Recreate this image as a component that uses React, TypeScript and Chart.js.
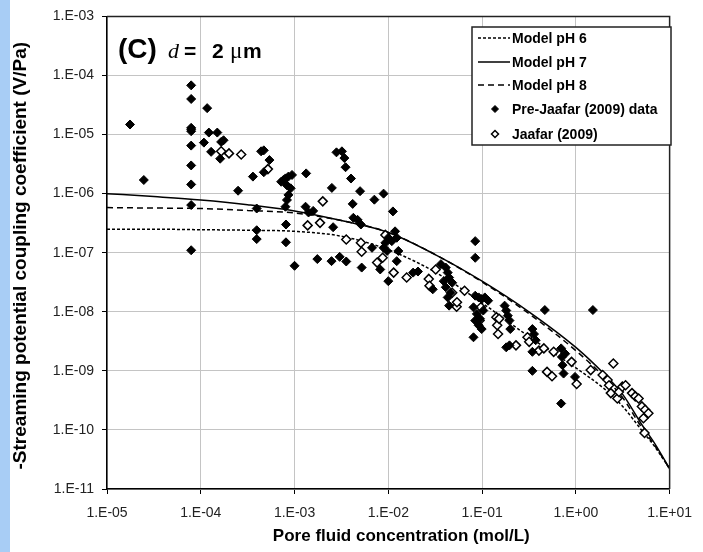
import React, { useEffect, useRef } from 'react';
import { Chart, registerables } from 'chart.js';

Chart.register(...registerables);

// ---- Data -------------------------------------------------------------
const xTickValues = [1e-5, 1e-4, 1e-3, 1e-2, 1e-1, 1, 10];
const xTickLabels = ['1.E-05', '1.E-04', '1.E-03', '1.E-02', '1.E-01', '1.E+00', '1.E+01'];
const yTickValues = [1e-11, 1e-10, 1e-9, 1e-8, 1e-7, 1e-6, 1e-5, 1e-4, 1e-3];
const yTickLabels = ['1.E-11', '1.E-10', '1.E-09', '1.E-08', '1.E-07', '1.E-06', '1.E-05', '1.E-04', '1.E-03'];

const xTitle = 'Pore fluid concentration (mol/L)';
const yTitle = '-Streaming potential coupling coefficient (V/Pa)';

const modelConc = [1e-5, 3.16e-5, 1e-4, 3.16e-4, 1e-3, 3.16e-3, 1e-2, 3.16e-2, 1e-1, 3.16e-1, 1, 2, 3.16, 5, 7.08, 10];
const modelPH6 = [2.5e-7, 2.5e-7, 2.45e-7, 2.4e-7, 2.3e-7, 1.9e-7, 1.12e-7, 4.7e-8, 1.41e-8, 3.8e-9, 1.12e-9, 5.0e-10, 2.5e-10, 1.0e-10, 5.0e-11, 2.2e-11];
const modelPH7 = [1.0e-6, 8.9e-7, 7.8e-7, 6.5e-7, 5.1e-7, 3.5e-7, 2.2e-7, 9.3e-8, 3.3e-8, 1.0e-8, 2.5e-9, 8.9e-10, 4.0e-10, 1.26e-10, 5.6e-11, 2.2e-11];
const modelPH8 = [5.8e-7, 5.7e-7, 5.6e-7, 5.2e-7, 4.7e-7, 3.5e-7, 2.2e-7, 9.3e-8, 3.2e-8, 9.3e-9, 2.2e-9, 7.9e-10, 3.5e-10, 1.12e-10, 5.2e-11, 2.2e-11];

const preJaafarConc = [
  1.76e-5, 2.47e-5,
  7.9e-5, 7.9e-5, 7.9e-5, 7.9e-5, 7.9e-5, 7.9e-5, 7.9e-5, 7.9e-5, 7.9e-5, 7.9e-5,
  1.17e-4, 1.08e-4, 1.22e-4, 1.5e-4, 1.29e-4, 1.65e-4, 1.75e-4, 1.61e-4,
  2.5e-4, 3.6e-4, 4.4e-4, 4.7e-4, 5.4e-4, 4.7e-4, 3.95e-4, 3.95e-4, 3.95e-4,
  7.2e-4, 7.6e-4, 8.0e-4, 8.6e-4, 9.4e-4, 8.3e-4, 9.1e-4, 8.6e-4, 8.3e-4, 8.0e-4, 8.1e-4, 8.1e-4, 1.0e-3,
  1.33e-3, 1.31e-3, 1.41e-3, 1.58e-3, 1.75e-3,
  2.48e-3, 2.58e-3, 3.03e-3, 3.56e-3, 4.17e-3, 4.24e-3, 4.7e-3, 5.1e-3, 5.2e-3, 8.2e-3, 1.0e-2,
  8.9e-3, 9.3e-3, 1.0e-2, 1.09e-2, 1.18e-2, 1.23e-2, 1.28e-2, 1.23e-2, 9.7e-3, 6.7e-3,
  1.84e-2, 2.07e-2, 2.98e-2, 3.64e-2, 4.1e-2, 4.3e-2, 4.45e-2, 4.8e-2, 3.9e-2, 4.1e-2, 4.6e-2, 4.3e-2, 4.45e-2,
  8.45e-2, 8.45e-2, 8.1e-2, 8.45e-2, 9.2e-2, 9.9e-2, 1.07e-1, 1.16e-1, 8.1e-2, 8.8e-2, 9.5e-2, 8.45e-2, 9.2e-2, 9.9e-2, 1.03e-1,
  1.74e-1, 1.81e-1, 1.88e-1, 1.96e-1, 2.0e-1, 1.81e-1, 1.96e-1,
  4.67e-1, 1.52, 3.44e-1, 3.58e-1, 3.73e-1, 3.44e-1, 3.44e-1,
  6.97e-1, 7.1e-1, 7.2e-1, 7.4e-1, 7.7e-1, 9.8e-1, 6.97e-1,
  2.8e-3, 3.2e-3, 3.4e-3, 3.5e-3, 4.0e-3, 5.0e-3, 2.5e-3, 7.1e-3, 8.9e-3, 1.12e-2,
];
const preJaafarCoeff = [
  1.48e-5, 1.7e-6,
  6.8e-5, 4.0e-5, 1.3e-5, 1.23e-5, 1.14e-5, 6.5e-6, 3.0e-6, 1.43e-6, 6.4e-7, 1.1e-7,
  2.8e-5, 7.3e-6, 1.08e-5, 1.08e-5, 5.1e-6, 7.5e-6, 8.0e-6, 3.9e-6,
  1.12e-6, 1.94e-6, 5.2e-6, 5.4e-6, 3.7e-6, 2.3e-6, 5.6e-7, 2.4e-7, 1.7e-7,
  1.59e-6, 1.7e-6, 1.81e-6, 1.94e-6, 2.07e-6, 1.38e-6, 1.23e-6, 9.5e-7, 7.8e-7, 6.0e-7, 3.0e-7, 1.5e-7, 6.0e-8,
  2.2e-6, 6.0e-7, 4.8e-7, 5.1e-7, 7.8e-8,
  7.2e-8, 2.7e-7, 8.5e-8, 7.1e-8, 6.7e-7, 3.9e-7, 3.6e-7, 3.0e-7, 5.6e-8, 5.2e-8, 3.3e-8,
  1.21e-7, 1.47e-7, 1.79e-7, 1.57e-7, 2.3e-7, 1.79e-7, 1.07e-7, 7.2e-8, 1.07e-7, 1.21e-7,
  4.6e-8, 4.8e-8, 2.4e-8, 6.4e-8, 5.6e-8, 4.6e-8, 3.8e-8, 3.1e-8, 3.3e-8, 2.6e-8, 2.1e-8, 1.75e-8, 1.27e-8,
  1.57e-7, 8.2e-8, 3.7e-9, 1.87e-8, 1.75e-8, 1.64e-8, 1.75e-8, 1.54e-8, 1.19e-8, 9.2e-9, 7.6e-9, 7.1e-9, 5.9e-9, 5.1e-9, 1.05e-8,
  1.27e-8, 1.05e-8, 8.6e-9, 7.1e-9, 5.1e-9, 2.5e-9, 2.7e-9,
  1.07e-8, 1.07e-8, 5.1e-9, 4.2e-9, 3.3e-9, 2.1e-9, 1.0e-9,
  2.4e-9, 1.72e-9, 1.25e-9, 9.0e-10, 1.95e-9, 7.9e-10, 2.8e-10,
  5.0e-6, 5.2e-6, 4.0e-6, 2.8e-6, 1.8e-6, 1.1e-6, 1.25e-6, 7.9e-7, 1.0e-6, 5.0e-7,
];

const jaafarConc = [
  1.65e-4, 2.0e-4, 2.7e-4, 5.2e-4, 1.38e-3, 2.0e-3, 1.87e-3, 3.56e-3, 5.1e-3, 5.2e-3,
  7.6e-3, 8.7e-3, 9.3e-3, 1.14e-2, 1.57e-2, 2.7e-2, 2.75e-2, 3.2e-2, 4.8e-2, 5.35e-2,
  5.4e-2, 6.5e-2, 9.7e-2, 9.4e-2, 1.42e-1, 1.45e-1, 1.48e-1, 1.52e-1, 2.3e-1, 3.05e-1,
  3.18e-1, 4.04e-1, 4.56e-1, 4.93e-1, 5.57e-1, 5.8e-1, 9.0e-1, 1.02, 1.44, 1.93,
  2.18, 2.26, 2.51, 2.36, 2.77, 2.88, 3.13, 3.39, 3.97, 4.3,
  4.67, 5.06, 5.48, 5.94, 5.26, 5.4,
];
const jaafarCoeff = [
  5.2e-6, 4.8e-6, 4.6e-6, 2.6e-6, 2.9e-7, 7.4e-7, 3.2e-7, 1.67e-7, 1.47e-7, 1.04e-7,
  6.8e-8, 8.2e-8, 2.0e-7, 4.6e-8, 3.8e-8, 3.6e-8, 2.75e-8, 5.2e-8, 2.1e-8, 1.22e-8,
  1.45e-8, 2.27e-8, 1.19e-8, 7.1e-9, 8.1e-9, 5.9e-9, 4.2e-9, 7.6e-9, 2.7e-9, 3.7e-9,
  3.1e-9, 2.2e-9, 2.4e-9, 9.6e-10, 8.1e-10, 2.1e-9, 1.42e-9, 6.0e-10, 1.03e-9, 8.5e-10,
  7.0e-10, 5.7e-10, 1.33e-9, 4.2e-10, 3.4e-10, 4.4e-10, 5.4e-10, 5.7e-10, 4.2e-10, 3.7e-10,
  3.4e-10, 2.5e-10, 2.2e-10, 1.92e-10, 1.58e-10, 8.9e-11,
];

const legendOrder = ['Model pH 6', 'Model pH 7', 'Model pH 8', 'Pre-Jaafar (2009) data', 'Jaafar (2009)'];

const FONT = '"Liberation Sans", Arial, Helvetica, sans-serif';
const SERIF = '"Liberation Serif", "Times New Roman", serif';

function drawDiamond(ctx: CanvasRenderingContext2D, x: number, y: number, r: number, filled: boolean) {
  ctx.beginPath();
  ctx.moveTo(x - r, y);
  ctx.lineTo(x, y - r);
  ctx.lineTo(x + r, y);
  ctx.lineTo(x, y + r);
  ctx.closePath();
  ctx.fillStyle = filled ? '#000' : '#fff';
  ctx.fill();
  ctx.lineWidth = filled ? 1 : 1.5;
  ctx.strokeStyle = '#000';
  ctx.stroke();
}

const decorPlugin = {
  id: 'decor',
  beforeDraw(chart: any) {
    const ctx = chart.ctx as CanvasRenderingContext2D;
    ctx.save();
    ctx.fillStyle = '#ffffff';
    ctx.fillRect(0, 0, chart.width, chart.height);
    ctx.fillStyle = '#a8cdf5';
    ctx.fillRect(0, 0, 10, chart.height);
    ctx.restore();
  },
  afterDraw(chart: any) {
    const ctx = chart.ctx as CanvasRenderingContext2D;
    const a = chart.chartArea;
    ctx.save();
    // frame top / right
    ctx.strokeStyle = '#222';
    ctx.lineWidth = 1.5;
    ctx.beginPath();
    ctx.moveTo(a.left, a.top);
    ctx.lineTo(a.right, a.top);
    ctx.lineTo(a.right, a.bottom);
    ctx.stroke();

    // axis titles
    ctx.fillStyle = '#000';
    ctx.textAlign = 'center';
    ctx.textBaseline = 'middle';
    ctx.font = `bold 17px ${FONT}`;
    ctx.fillText(xTitle, (a.left + a.right) / 2 + 13, 536);
    ctx.save();
    ctx.translate(21, (a.top + a.bottom) / 2 + 3);
    ctx.rotate(-Math.PI / 2);
    ctx.font = `bold 19px ${FONT}`;
    ctx.fillText(yTitle, 0, 0);
    ctx.restore();

    // panel label
    ctx.fillStyle = '#000';
    ctx.textBaseline = 'alphabetic';
    ctx.textAlign = 'left';
    const bx = a.left + 11;
    const by = a.top + 42;
    ctx.font = `bold 28px ${FONT}`;
    ctx.fillText('(C)', bx, by);
    ctx.font = `italic 22px ${SERIF}`;
    ctx.fillText('d', bx + 50, by);
    ctx.font = `bold 21px ${FONT}`;
    ctx.fillText('=', bx + 66, by);
    ctx.fillText('2', bx + 94, by);
    ctx.font = `23px ${SERIF}`;
    ctx.fillText('\u03bc', bx + 112, by);
    ctx.font = `bold 21px ${FONT}`;
    ctx.fillText('m', bx + 125, by);

    // legend box
    const lx = 472, ly = 27, lw = 199, lh = 118;
    ctx.fillStyle = '#fff';
    ctx.fillRect(lx, ly, lw, lh);
    ctx.strokeStyle = '#222';
    ctx.lineWidth = 1.5;
    ctx.strokeRect(lx, ly, lw, lh);

    const datasets = chart.data.datasets;
    const rowY = [38, 62, 85, 109, 134];
    ctx.font = `bold 14px ${FONT}`;
    ctx.textBaseline = 'middle';
    legendOrder.forEach((label, i) => {
      const ds = datasets.find((d: any) => d.label === label);
      const y = rowY[i];
      if (ds.showLine) {
        ctx.save();
        ctx.strokeStyle = '#000';
        ctx.lineWidth = 1.5;
        ctx.setLineDash(ds.borderDash || []);
        ctx.beginPath();
        ctx.moveTo(478, y);
        ctx.lineTo(510, y);
        ctx.stroke();
        ctx.restore();
      } else {
        drawDiamond(ctx, 495, y, 3.5, ds.backgroundColor === '#000');
      }
      ctx.fillStyle = '#000';
      ctx.fillText(label, 512, y + 1);
    });
    ctx.restore();
  },
};

export default function App() {
  const ref = useRef<HTMLCanvasElement | null>(null);

  useEffect(() => {
    if (!ref.current) return;
    const pts = (xs: number[], ys: number[]) => xs.map((x, i) => ({ x, y: ys[i] }));
    const lineDs = (label: string, ys: number[], dash: number[]) => ({
      label,
      data: pts(modelConc, ys),
      showLine: true,
      pointRadius: 0,
      borderColor: '#000',
      backgroundColor: '#000',
      borderWidth: 1.5,
      borderDash: dash,
      cubicInterpolationMode: 'monotone',
      order: 1,
    });
    const chart = new Chart(ref.current, {
      type: 'scatter',
      data: {
        datasets: [
          {
            label: 'Pre-Jaafar (2009) data',
            data: pts(preJaafarConc, preJaafarCoeff),
            pointStyle: 'rectRot',
            pointRadius: 4.5,
            backgroundColor: '#000',
            borderColor: '#000',
            borderWidth: 1,
            order: 0,
          },
          {
            label: 'Jaafar (2009)',
            data: pts(jaafarConc, jaafarCoeff),
            pointStyle: 'rectRot',
            pointRadius: 4.5,
            backgroundColor: '#fff',
            borderColor: '#000',
            borderWidth: 1.5,
            order: 0,
          },
          lineDs('Model pH 6', modelPH6, [3, 2]),
          lineDs('Model pH 7', modelPH7, []),
          lineDs('Model pH 8', modelPH8, [6, 4]),
        ] as any,
      },
      options: {
        responsive: false,
        animation: false,
        events: [],
        layout: { padding: { left: 0, top: 15, right: 23, bottom: 0 } },
        plugins: { legend: { display: false }, tooltip: { enabled: false } },
        scales: {
          x: {
            type: 'logarithmic',
            position: 'bottom',
            min: 1e-5,
            max: 10,
            afterBuildTicks: (s: any) => {
              s.ticks = xTickValues.map((v) => ({ value: v }));
            },
            afterFit: (s: any) => {
              s.height = 63;
            },
            ticks: {
              callback: (_v: any, i: number) => xTickLabels[i],
              font: { family: FONT, size: 14 },
              color: '#222',
              padding: 11,
              autoSkip: false,
              maxRotation: 0,
            },
            grid: { color: '#c4c4c4', lineWidth: 1, tickLength: 5, tickColor: '#000' },
            border: { color: '#000', width: 1.5 },
          },
          y: {
            type: 'logarithmic',
            position: 'left',
            min: 1e-11,
            max: 1e-3,
            afterBuildTicks: (s: any) => {
              s.ticks = yTickValues.map((v) => ({ value: v }));
            },
            afterFit: (s: any) => {
              s.width = 107;
            },
            ticks: {
              callback: (_v: any, i: number) => yTickLabels[i],
              font: { family: FONT, size: 14 },
              color: '#222',
              padding: 8,
              autoSkip: false,
            },
            grid: { color: '#c4c4c4', lineWidth: 1, tickLength: 5, tickColor: '#000' },
            border: { color: '#000', width: 1.5 },
          },
        },
      } as any,
      plugins: [decorPlugin as any],
    });
    return () => chart.destroy();
  }, []);

  return (
    <div style={{ position: 'absolute', left: 0, top: 0, width: 703, height: 552 }}>
      <canvas ref={ref} width={703} height={552} style={{ width: 703, height: 552, display: 'block' }} />
    </div>
  );
}
